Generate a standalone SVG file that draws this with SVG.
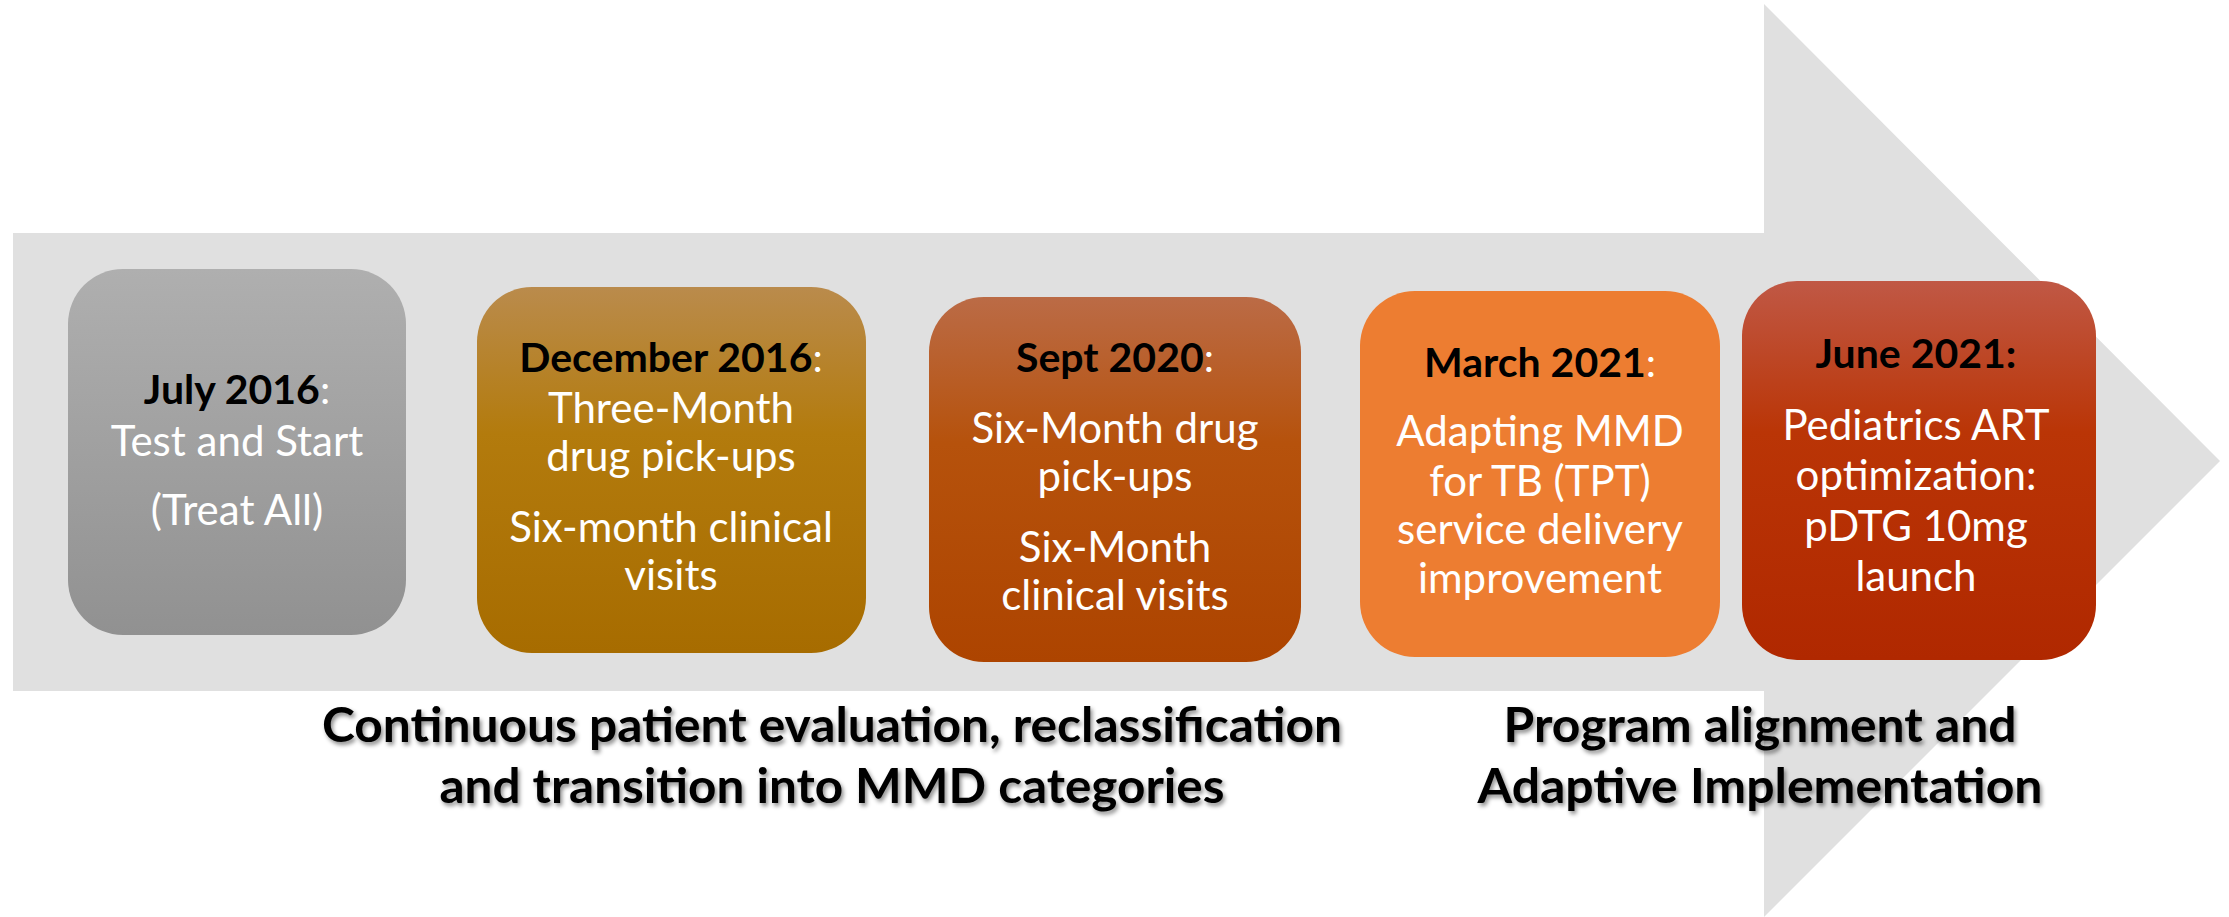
<svg xmlns="http://www.w3.org/2000/svg" width="2229" height="917" viewBox="0 0 2229 917">
<style>
.box{stroke:none}
.hd{font-family:Lato,"Open Sans",sans-serif;font-weight:700;font-size:41px;fill:#000;text-anchor:middle}
.tx{font-family:Lato,"Open Sans",sans-serif;font-size:42px;fill:#fff;text-anchor:middle}
.wc{fill:#fff;font-weight:400}
.big{font-family:Lato,"Open Sans",sans-serif;font-weight:700;font-size:47px;fill:#000;text-anchor:middle}
</style>
<defs>
<linearGradient id="g1" x1="0" y1="0" x2="0" y2="1"><stop offset="0" stop-color="#AFAFAF"/><stop offset="1" stop-color="#919191"/></linearGradient>
<linearGradient id="g2" x1="0" y1="0" x2="0" y2="1"><stop offset="0" stop-color="#BA8B4C"/><stop offset="0.4" stop-color="#B37B0D"/><stop offset="1" stop-color="#A76C00"/></linearGradient>
<linearGradient id="g3" x1="0" y1="0" x2="0" y2="1"><stop offset="0" stop-color="#BB6B46"/><stop offset="0.4" stop-color="#B6520C"/><stop offset="1" stop-color="#AD4400"/></linearGradient>
<linearGradient id="g5" x1="0" y1="0" x2="0" y2="1"><stop offset="0" stop-color="#C05845"/><stop offset="0.4" stop-color="#BA3506"/><stop offset="1" stop-color="#B02800"/></linearGradient>
<filter id="sh" x="-5%" y="-20%" width="110%" height="150%"><feDropShadow dx="2" dy="3" stdDeviation="2" flood-color="#000" flood-opacity="0.45"/></filter>
</defs>
<g id="arrow"><path d="M13,233 H1764 V4 L2220,461 L1764,917 V691 H13 Z" fill="#E0E0E0"/></g>
<g id="node-july2016">
<rect class="box" x="68" y="269" width="338" height="366" rx="55" fill="url(#g1)"/>
<text class="hd" x="237" y="404">July 2016<tspan class="wc">:</tspan></text>
<text class="tx" x="237" y="456">Test and Start</text>
<text class="tx" x="237" y="525">(Treat All)</text>
</g>
<g id="node-dec2016">
<rect class="box" x="477" y="287" width="389" height="366" rx="55" fill="url(#g2)"/>
<text class="hd" x="671" y="372">December 2016<tspan class="wc">:</tspan></text>
<text class="tx" x="671" y="423">Three-Month</text>
<text class="tx" x="671" y="471">drug pick-ups</text>
<text class="tx" x="671" y="542">Six-month clinical</text>
<text class="tx" x="671" y="590">visits</text>
</g>
<g id="node-sept2020">
<rect class="box" x="929" y="297" width="372" height="365" rx="55" fill="url(#g3)"/>
<text class="hd" x="1115" y="372">Sept 2020<tspan class="wc">:</tspan></text>
<text class="tx" x="1115" y="443">Six-Month drug</text>
<text class="tx" x="1115" y="491">pick-ups</text>
<text class="tx" x="1115" y="562">Six-Month</text>
<text class="tx" x="1115" y="610">clinical visits</text>
</g>
<g id="node-march2021">
<rect class="box" x="1360" y="291" width="360" height="366" rx="55" fill="#ED7D31"/>
<text class="hd" x="1540" y="377">March 2021<tspan class="wc">:</tspan></text>
<text class="tx" x="1540" y="446">Adapting MMD</text>
<text class="tx" x="1540" y="496">for TB (TPT)</text>
<text class="tx" x="1540" y="544">service delivery</text>
<text class="tx" x="1540" y="593">improvement</text>
</g>
<g id="node-june2021">
<rect class="box" x="1742" y="281" width="354" height="379" rx="55" fill="url(#g5)"/>
<text class="hd" x="1916" y="368">June 2021:</text>
<text class="tx" x="1916" y="440">Pediatrics ART</text>
<text class="tx" x="1916" y="490">optimization:</text>
<text class="tx" x="1916" y="541">pDTG 10mg</text>
<text class="tx" x="1916" y="591">launch</text>
</g>
<g id="labels" filter="url(#sh)">
<text class="big" x="832" y="742" textLength="1020" lengthAdjust="spacingAndGlyphs">Continuous patient evaluation, reclassification</text>
<text class="big" x="832" y="803" textLength="785" lengthAdjust="spacingAndGlyphs">and transition into MMD categories</text>
<text class="big" x="1760" y="742" textLength="513" lengthAdjust="spacingAndGlyphs">Program alignment and</text>
<text class="big" x="1760" y="803" textLength="565" lengthAdjust="spacingAndGlyphs">Adaptive Implementation</text>
</g>
</svg>
